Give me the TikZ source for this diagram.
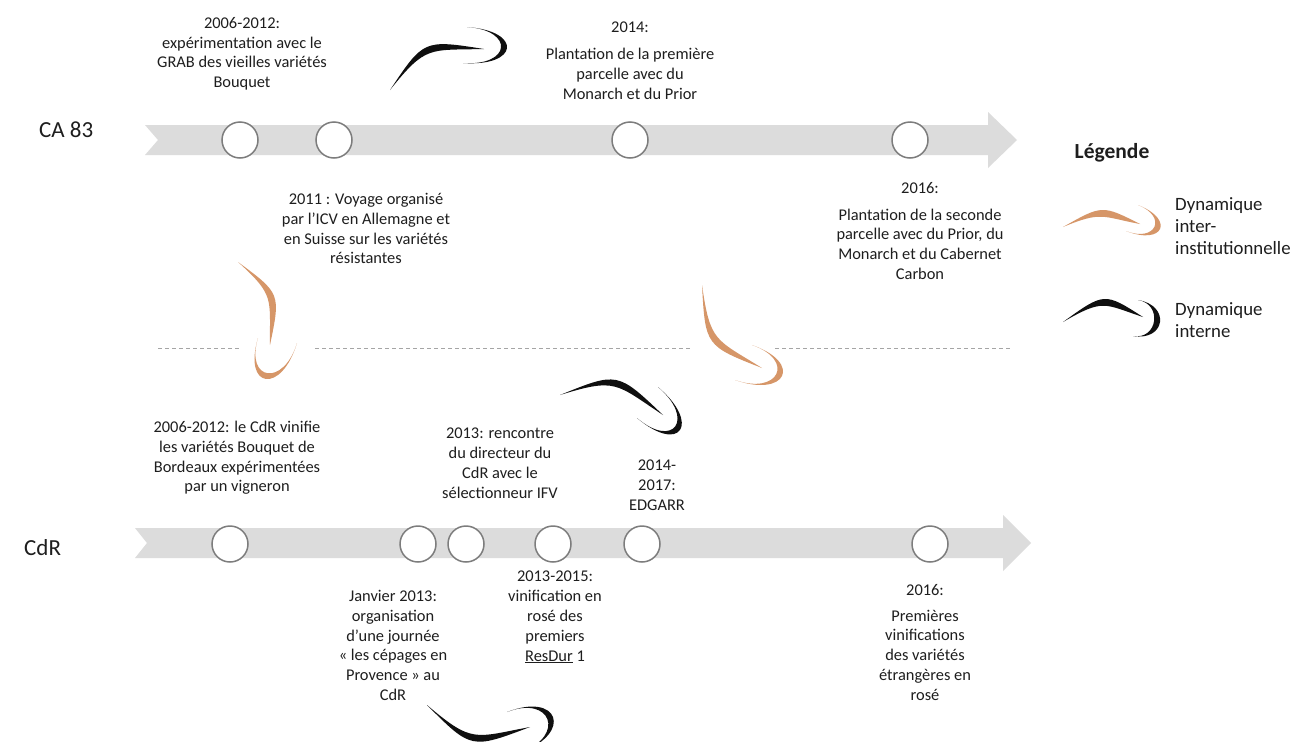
\documentclass[tikz,border=0pt]{standalone}
\usepackage{fontspec}
\setmainfont{Carlito}
\usetikzlibrary{calc}
\definecolor{band}{RGB}{220,220,220}
\definecolor{ring}{RGB}{125,125,125}
\definecolor{ochre}{RGB}{214,150,104}
\definecolor{ink}{RGB}{15,15,15}
\definecolor{txt}{RGB}{30,30,30}
\definecolor{dashcol}{RGB}{165,165,165}
\newcommand\swoosh[7]{%
  \coordinate (sw-m) at ($#2!0.5!#4$);
  \coordinate (sw-c) at ($(sw-m)!1.333!#3$);
  \fill[#1] #2 .. controls (sw-c) and (sw-c) .. #4
     .. controls ($(sw-c)!12pt!(sw-m)$) and ($(sw-c)!6pt!(sw-m)$) .. #2 -- cycle;
  \coordinate (sw-hm) at ($#5!0.5!#7$);
  \coordinate (sw-a) at ($#5 + 1.333*#6 - 1.333*(sw-hm)$);
  \coordinate (sw-b) at ($#7 + 1.333*#6 - 1.333*(sw-hm)$);
  \fill[#1] #5 .. controls (sw-a) and (sw-b) .. #7
     .. controls ($(sw-b)!8pt!#7$) and ($(sw-a)!8pt!#5$) .. #5 -- cycle;
}
\tikzset{
  x=1pt, y=-1pt,
  dot/.style={circle, draw=ring, fill=white, line width=1.5pt, minimum size=36pt, inner sep=0pt},
  lbl/.style={align=center, anchor=north, inner sep=0pt, text=txt,
    font=\fontsize{16.4}{19.8}\selectfont, execute at begin node={\rule{0pt}{14pt}}},
  leg/.style={align=left, anchor=north west, inner sep=0pt, text=txt,
    font=\fontsize{18.8}{22}\selectfont, execute at begin node={\rule{0pt}{15pt}}},
  rowlbl/.style={anchor=west, inner sep=0pt, text=txt, font=\fontsize{23}{27}\selectfont},
  sep/.style={draw=dashcol, line width=0.8pt, dash pattern=on 4pt off 3pt}
}
\begin{document}
\begin{tikzpicture}
\useasboundingbox (0,0) rectangle (1294,742);
\fill[white] (0,0) rectangle (1294,742);
\clip (0,0) rectangle (1294,742);

% timeline bands
\fill[band] (145,125) -- (988,125) -- (988,112) -- (1017,140) -- (988,168) -- (988,155) -- (145,155) -- (158,140) -- cycle;
\fill[band] (135,528) -- (1003,528) -- (1003,515) -- (1031,543) -- (1003,571) -- (1003,558) -- (135,558) -- (147,543) -- cycle;

% dashed separator
\draw[sep] (158,348) -- (240,348);
\draw[sep] (315,348) -- (690,348);
\draw[sep] (775,348) -- (1010,348);

% milestones
\node[dot] (t1) at (240,140) {};
\node[dot] (t2) at (334,140) {};
\node[dot] (t3) at (630,140) {};
\node[dot] (t4) at (910,140) {};
\node[dot] (b1) at (230,544) {};
\node[dot] (b2) at (418,544) {};
\node[dot] (b3) at (466,544) {};
\node[dot] (b4) at (553,544) {};
\node[dot] (b5) at (642,544) {};
\node[dot] (b6) at (930,544) {};

% row labels
\node[rowlbl] (ca) at (39,130) {CA 83};
\node[rowlbl] (cdr) at (24,548) {CdR};

% texts top
\node[lbl] (x1) at (242,17) {2006-2012:\\expérimentation avec le\\GRAB des vieilles variétés\\Bouquet};
\node[lbl] (x2) at (630,22) {2014:\\[7pt]Plantation de la première\\parcelle avec du\\Monarch et du Prior};
\node[lbl] (x3) at (366,193) {2011 : Voyage organisé\\par l’ICV en Allemagne et\\en Suisse sur les variétés\\résistantes};
\node[lbl] (x4) at (920,182) {2016:\\[7pt]Plantation de la seconde\\parcelle avec du Prior, du\\Monarch et du Cabernet\\Carbon};

% texts bottom
\node[lbl] (y1) at (237,421) {2006-2012: le CdR vinifie\\les variétés Bouquet de\\Bordeaux expérimentées\\par un vigneron};
\node[lbl] (y2) at (500,428) {2013: rencontre\\du directeur du\\CdR avec le\\sélectionneur IFV};
\node[lbl] (y3) at (657,460) {2014-\\2017:\\EDGARR};
\node[lbl] (y4) at (393,590) {Janvier 2013:\\organisation\\d’une journée\\« les cépages en\\Provence » au\\CdR};
\node[lbl] (y5) at (555,571) {2013-2015:\\vinification en\\rosé des\\premiers\\\underline{ResDur} 1};
\node[lbl] (y6) at (925,584) {2016:\\[6pt]Premières\\vinifications\\des variétés\\étrangères en\\rosé};

% legend
\node[text=txt, font=\fontsize{21.5}{25}\selectfont\bfseries, inner sep=0pt] (lg) at (1112,153) {Légende};
\node[leg] (l1) at (1175,197) {Dynamique\\inter-\\institutionnelle};
\node[leg] (l2) at (1175,302) {Dynamique\\interne};

% swooshes
\swoosh{ink}{(390,90)}{(427,47)}{(484,49)}{(467,27)}{(507,48)}{(463,63)}
\swoosh{ochre}{(238,262)}{(274,296)}{(270,345)}{(258,338)}{(266,379)}{(297,343)}
\swoosh{ochre}{(702,285)}{(712,341)}{(762,368)}{(752,345)}{(782,376)}{(735,380)}
\swoosh{ink}{(560,395)}{(616,380)}{(663,415)}{(658,387)}{(680,430)}{(637,418)}
\swoosh{ink}{(427,705)}{(473,741)}{(530,727)}{(507,712)}{(553,717)}{(522,752)}
\swoosh{ochre}{(1063,227)}{(1102,210)}{(1140,224)}{(1138,205)}{(1160,229)}{(1126,231)}
\swoosh{ink}{(1063,322)}{(1104,299)}{(1143,317)}{(1138,300)}{(1160,322)}{(1133,336)}
\end{tikzpicture}
\end{document}
